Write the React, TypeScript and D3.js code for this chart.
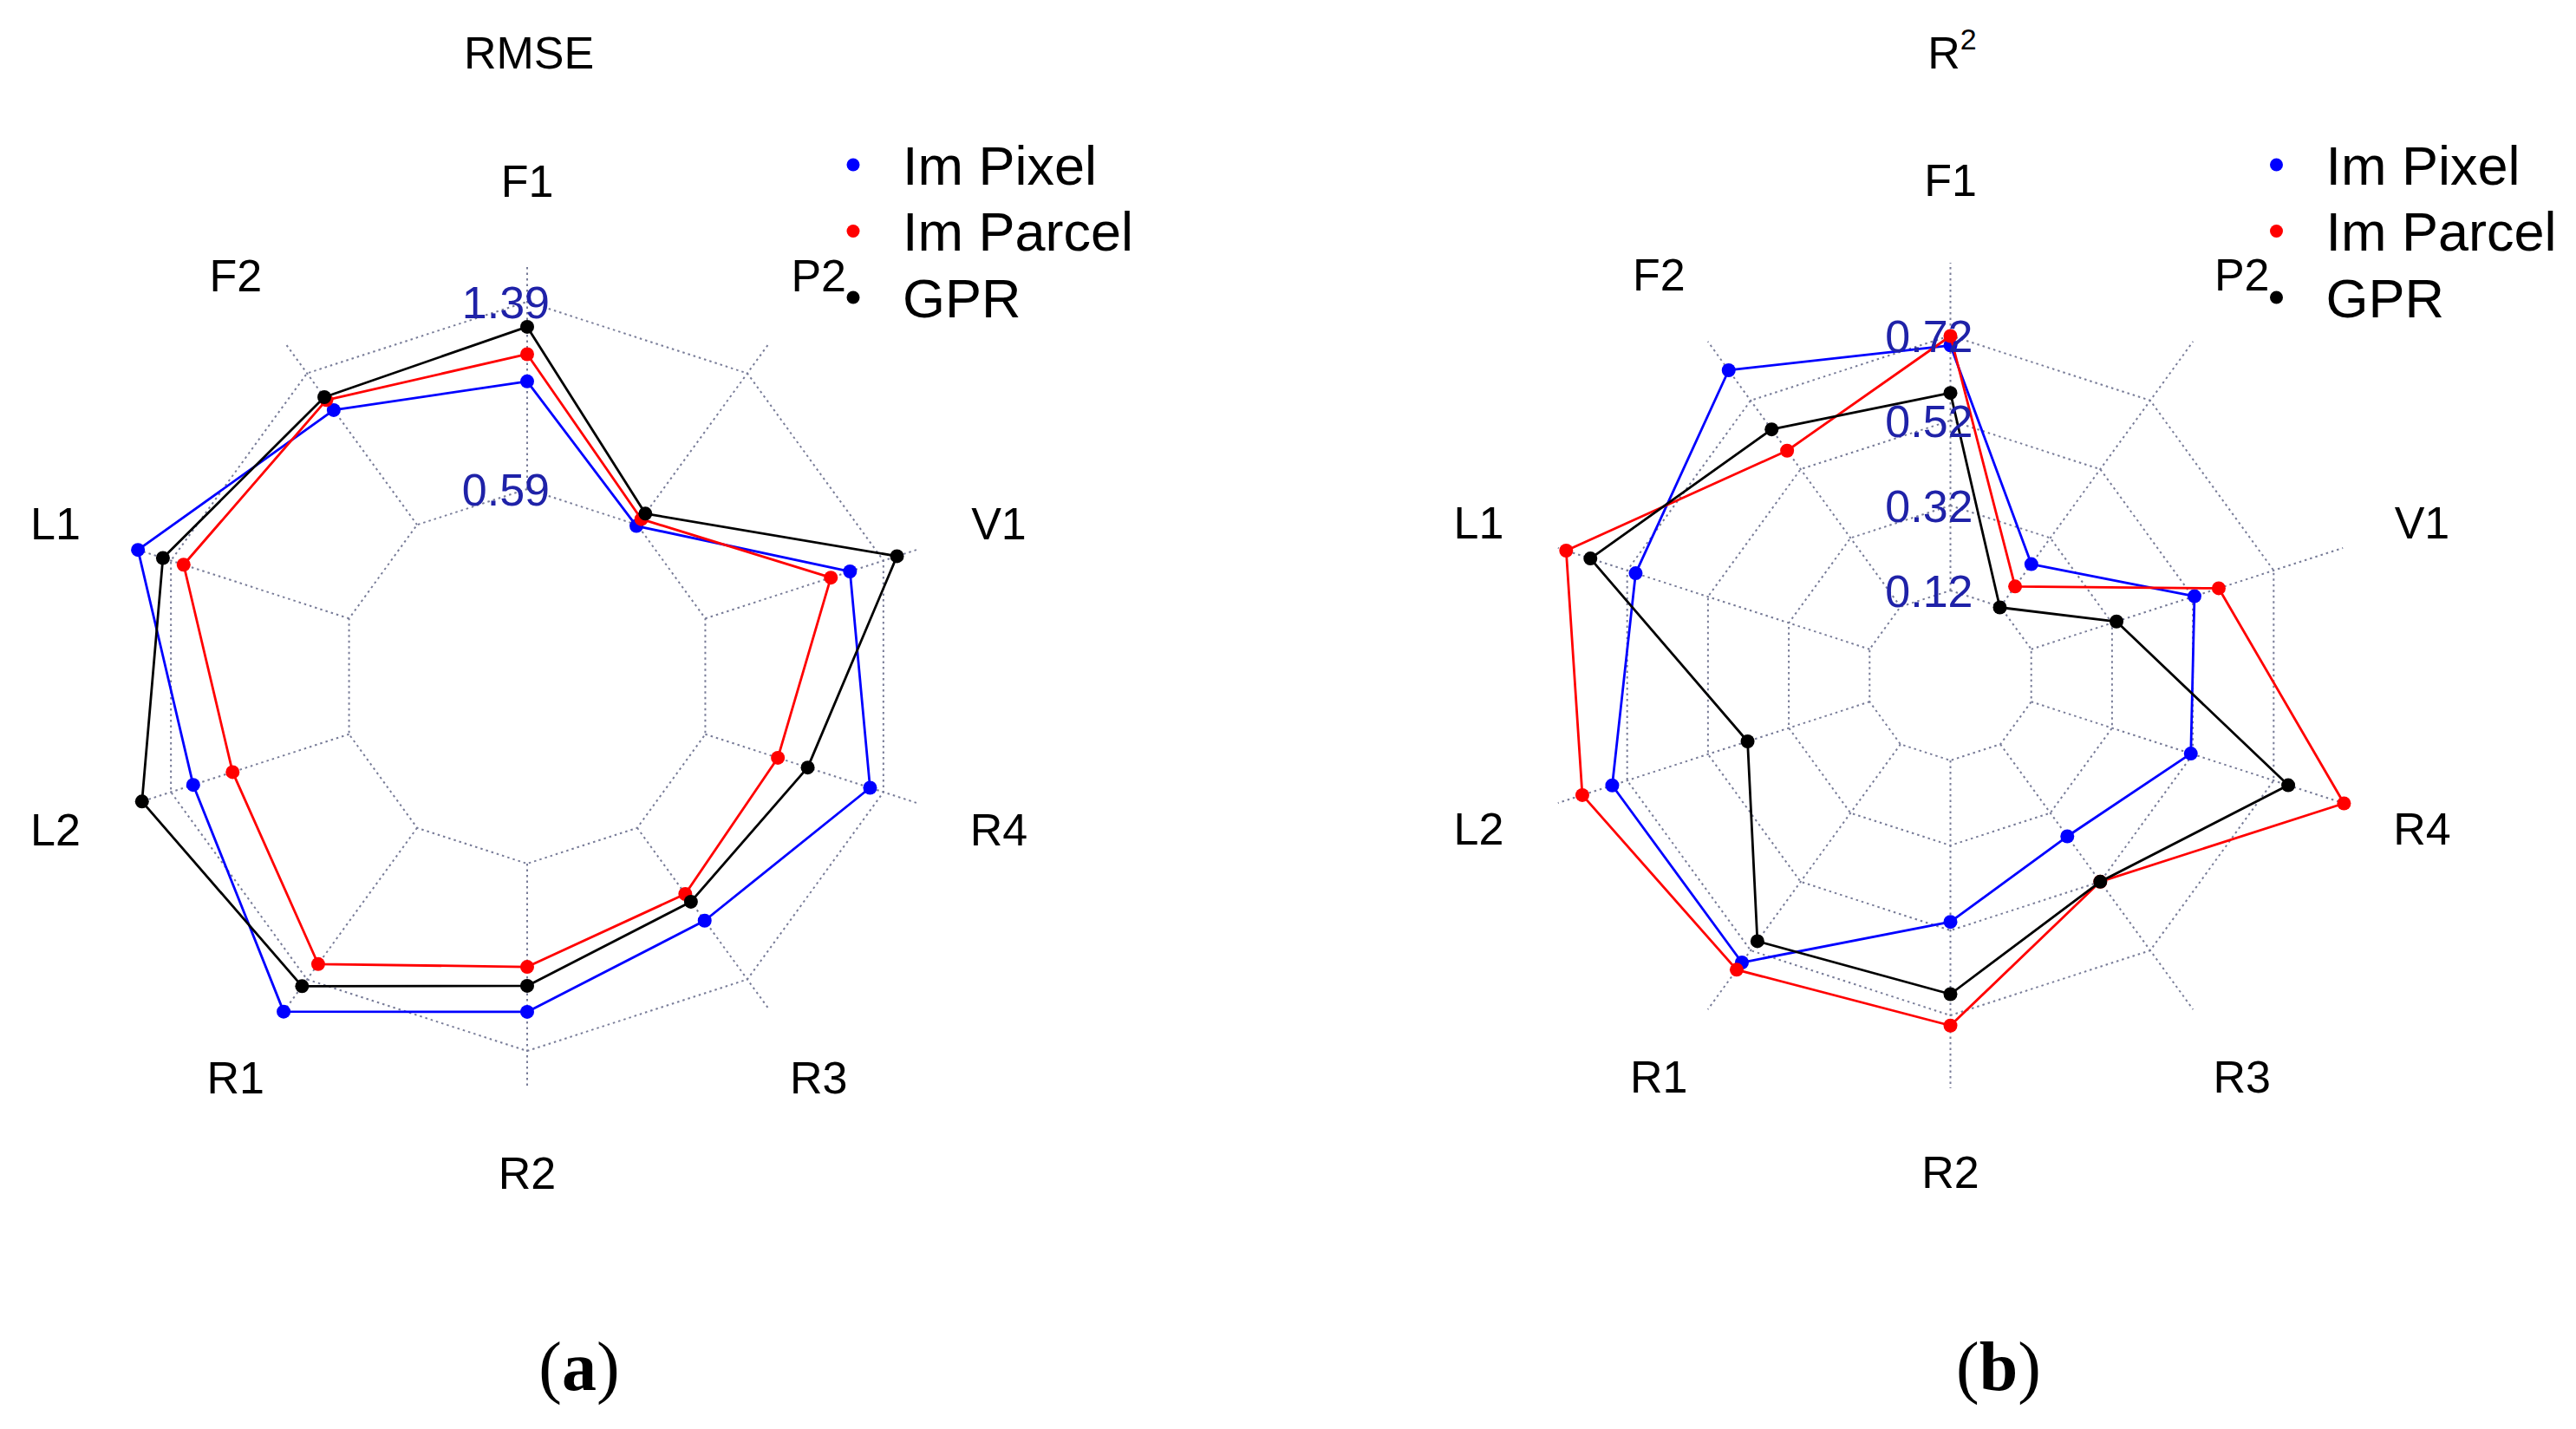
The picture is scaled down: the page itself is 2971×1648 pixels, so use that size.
import React from "react";
import * as d3 from "d3";

const axisNames = ["F1", "P2", "V1", "R4", "R3", "R2", "R1", "L2", "L1", "F2"];
const seriesNames = ["Im Pixel", "Im Parcel", "GPR"];
const seriesColors = ["#0000ff", "#ff0000", "#000000"];

// RMSE (a)
const rmsePixel = [1.05, 0.584, 1.24, 1.33, 1.08, 1.223, 1.56, 1.29, 1.538, 1.196];
const rmseParcel = [1.166, 0.62, 1.154, 0.916, 0.939, 1.031, 1.309, 1.113, 1.333, 1.249];
const rmseGpr = [1.283, 0.649, 1.451, 1.05, 0.98, 1.112, 1.426, 1.52, 1.426, 1.264];
const rmseTicks = [0.59, 1.39];
const rmseOrigin = -0.21;

// R2 (b)
const r2Pixel = [0.697, 0.244, 0.524, 0.515, 0.388, 0.5, 0.755, 0.757, 0.699, 0.808];
const r2Parcel = [0.719, 0.179, 0.584, 0.894, 0.52, 0.744, 0.776, 0.831, 0.871, 0.574];
const r2Gpr = [0.585, 0.118, 0.331, 0.756, 0.52, 0.67, 0.693, 0.422, 0.811, 0.636];
const r2Ticks = [0.12, 0.32, 0.52, 0.72];
const r2Origin = -0.08;

const FONT = "'Liberation Sans', Arial, Helvetica, sans-serif";

type RadarProps = {
  cx: number;
  cy: number;
  outerR: number;
  origin: number;
  ticks: number[];
  series: number[][];
  title: React.ReactNode;
  caption: string;
  captionX: number;
};

function Radar({ cx, cy, outerR, origin, ticks, series, title, caption, captionX }: RadarProps) {
  const n = axisNames.length;
  const r = d3.scaleLinear().domain([origin, ticks[ticks.length - 1]]).range([0, outerR]);
  const ang = (i: number) => (i * 2 * Math.PI) / n;
  const pt = (i: number, rad: number): [number, number] => [
    cx + rad * Math.sin(ang(i)),
    cy - rad * Math.cos(ang(i)),
  ];
  const spokeEnd = 476;
  const labelR = 572;
  const innerR = r(ticks[0]);
  const line = d3.line().curve(d3.curveLinearClosed);
  const gridStroke = "#787c98";
  return (
    <g>
      {/* rings */}
      {ticks.map((t, k) => (
        <path
          key={"ring" + k}
          d={line(axisNames.map((_, i) => pt(i, r(t)))) || ""}
          fill="none"
          stroke={gridStroke}
          strokeWidth={2}
          strokeDasharray="2.5,4"
        />
      ))}
      {/* spokes */}
      {axisNames.map((_, i) => {
        const [x1, y1] = pt(i, innerR);
        const [x2, y2] = pt(i, spokeEnd);
        return (
          <line
            key={"sp" + i}
            x1={x1}
            y1={y1}
            x2={x2}
            y2={y2}
            stroke={gridStroke}
            strokeWidth={2}
            strokeDasharray="2.5,4"
          />
        );
      })}
      {/* series */}
      {series.map((vals, s) => (
        <g key={"s" + s}>
          <path
            d={line(vals.map((v, i) => pt(i, r(v)))) || ""}
            fill="none"
            stroke={seriesColors[s]}
            strokeWidth={2.8}
            strokeLinejoin="round"
          />
          {vals.map((v, i) => {
            const [x, y] = pt(i, r(v));
            return <circle key={i} cx={x} cy={y} r={8} fill={seriesColors[s]} />;
          })}
        </g>
      ))}
      {/* tick labels */}
      {ticks.map((t, k) => (
        <text
          key={"tl" + k}
          x={cx + 26}
          y={cy - r(t)}
          dy="0.36em"
          textAnchor="end"
          fontFamily={FONT}
          fontSize={52}
          fill="#1f22a8"
        >
          {t.toFixed(2)}
        </text>
      ))}
      {/* axis labels */}
      {axisNames.map((name, i) => {
        const [x, y] = pt(i, labelR);
        return (
          <text
            key={"al" + i}
            x={x}
            y={y}
            dy="0.36em"
            textAnchor="middle"
            fontFamily={FONT}
            fontSize={52}
            fill="#000"
          >
            {name}
          </text>
        );
      })}
      {/* title */}
      <text x={cx + 2} y={79} textAnchor="middle" fontFamily={FONT} fontSize={52} fill="#000">
        {title}
      </text>
      {/* legend */}
      {seriesNames.map((name, s) => {
        const ly = 190 + s * 76.5;
        return (
          <g key={"lg" + s}>
            <circle cx={cx + 376} cy={ly} r={7.5} fill={seriesColors[s]} />
            <text x={cx + 433} y={ly} dy="0.36em" fontFamily={FONT} fontSize={63} fill="#000">
              {name}
            </text>
          </g>
        );
      })}
      {/* caption */}
      <text
        x={captionX}
        y={1603}
        textAnchor="middle"
        fontFamily="'Liberation Serif', 'Times New Roman', serif"
        fontSize={80}
        fill="#000"
      >
        (<tspan fontWeight="bold">{caption}</tspan>)
      </text>
    </g>
  );
}

export default function App() {
  return (
    <svg
      width={2971}
      height={1648}
      viewBox="0 0 2971 1648"
      style={{ position: "absolute", left: 0, top: 0, background: "#fff" }}
    >
      <rect x={0} y={0} width={2971} height={1648} fill="#fff" />
      <Radar
        cx={608}
        cy={780}
        outerR={432}
        origin={rmseOrigin}
        ticks={rmseTicks}
        series={[rmsePixel, rmseParcel, rmseGpr]}
        title="RMSE"
        caption="a"
        captionX={668}
      />
      <Radar
        cx={2249.5}
        cy={779}
        outerR={392}
        origin={r2Origin}
        ticks={r2Ticks}
        series={[r2Pixel, r2Parcel, r2Gpr]}
        title={
          <>
            R<tspan fontSize={34} dy={-22}>2</tspan>
          </>
        }
        caption="b"
        captionX={2305}
      />
    </svg>
  );
}
